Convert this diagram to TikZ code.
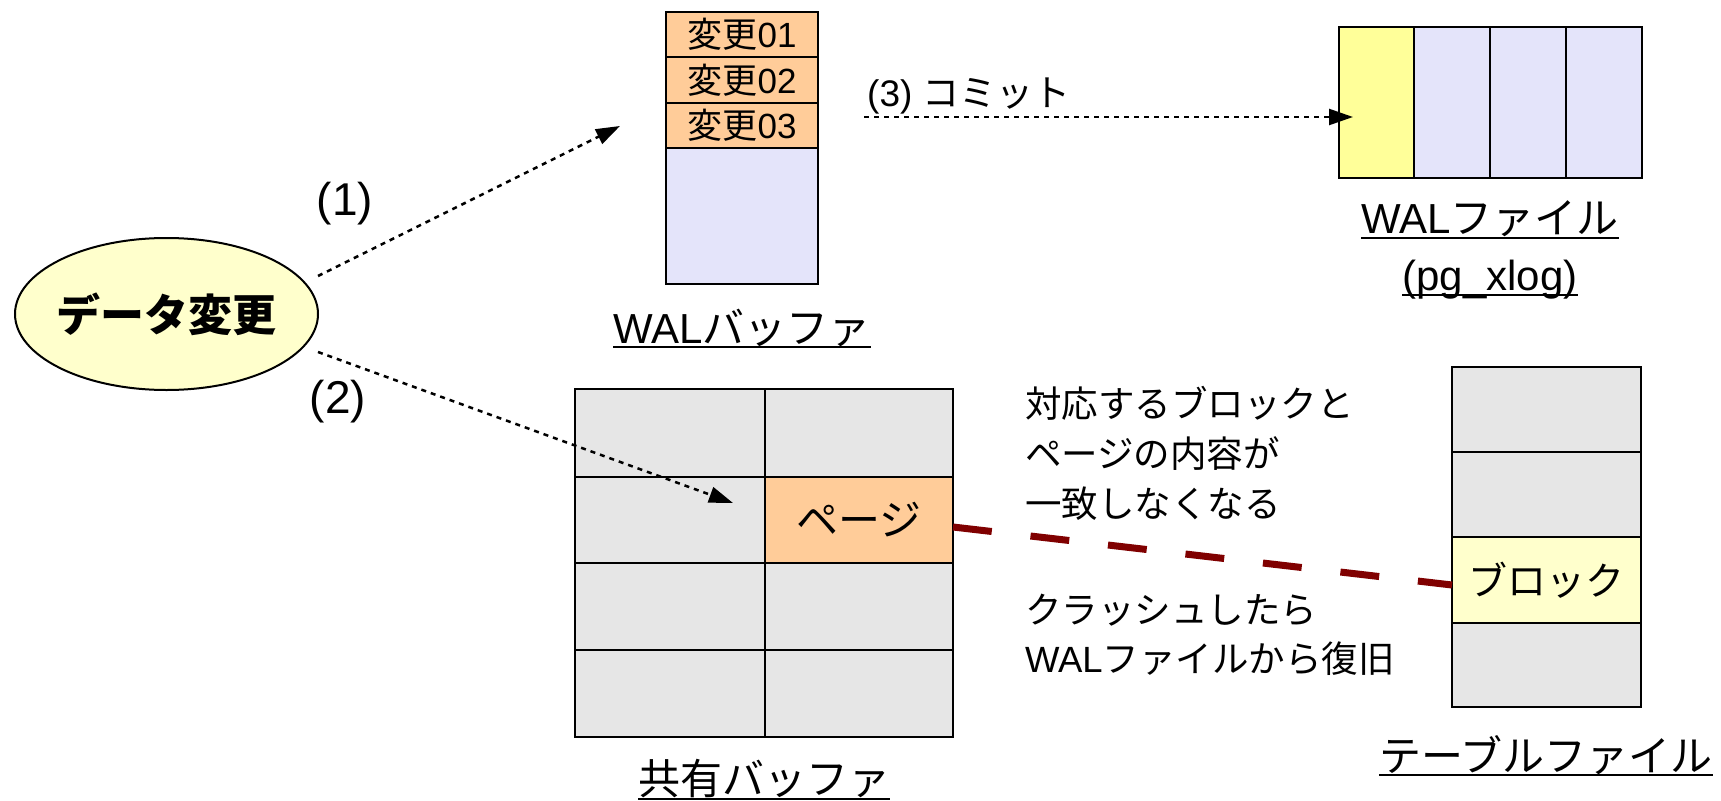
\documentclass[tikz,border=0pt]{standalone}
\usepackage{fontspec}
\setmainfont{Liberation Sans}
\newfontfamily\jp{Noto Sans CJK JP}
\usetikzlibrary{arrows.meta,shapes.geometric}
\definecolor{orng}{HTML}{FFCC99}
\definecolor{lav}{HTML}{E4E4FA}
\definecolor{ylw}{HTML}{FFFF99}
\definecolor{lyel}{HTML}{FFFFCC}
\definecolor{gry}{HTML}{E6E6E6}
\definecolor{dred}{HTML}{800000}
\newcommand{\fs}[1]{\fontsize{#1bp}{#1bp}\selectfont}
\tikzset{
  cell/.style={draw, line width=2bp, inner sep=0, outer sep=0, anchor=north west},
  lbl/.style={inner sep=0, outer sep=0, font=\fs{42}},
  txt/.style={inner sep=0, outer sep=0, anchor=base west, font=\fs{36.5}},
  ul/.style={line width=2.5bp},
  dotarrow/.style={line width=2.5bp, dash pattern=on 5bp off 5bp, -{Triangle[length=24bp,width=16bp]}},
  dashline/.style={line width=7bp, dred, dash pattern=on 39bp off 39bp},
}
\begin{document}
\begin{tikzpicture}[x=1bp, y=-1bp]
\useasboundingbox[fill=white] (0,0) rectangle (1721,801);

% data change ellipse
\node[ellipse, draw, line width=2bp, fill=lyel, minimum width=303bp, minimum height=152bp, inner sep=0, font=\fs{44}] (ell) at (166.5,314) {\makebox[0pt]{\jp\bfseries データ変更}};

% WAL buffer
\node[cell, fill=orng, minimum width=152bp, minimum height=45bp, font=\fs{35}] (wb1) at (666,12) {{\jp 変更}01};
\node[cell, fill=orng, minimum width=152bp, minimum height=46bp, font=\fs{35}] (wb2) at (666,57) {{\jp 変更}02};
\node[cell, fill=orng, minimum width=152bp, minimum height=45bp, font=\fs{35}] (wb3) at (666,103) {{\jp 変更}03};
\node[cell, fill=lav, minimum width=152bp, minimum height=136bp] (wb4) at (666,148) {};
\node[lbl, anchor=base] (wbl) at (742,343) {WAL{\jp バッファ}};
\draw[ul] ([yshift=-4bp]wbl.base west) -- ([yshift=-4bp]wbl.base east);

% WAL file
\node[cell, fill=ylw, minimum width=75bp, minimum height=151bp] (wf1) at (1339,27) {};
\node[cell, fill=lav, minimum width=76bp, minimum height=151bp] (wf2) at (1414,27) {};
\node[cell, fill=lav, minimum width=76bp, minimum height=151bp] (wf3) at (1490,27) {};
\node[cell, fill=lav, minimum width=76bp, minimum height=151bp] (wf4) at (1566,27) {};
\node[lbl, anchor=base] (wfl) at (1490,233) {WAL{\jp ファイル}};
\draw[ul] ([yshift=-5bp]wfl.base west) -- ([yshift=-5bp]wfl.base east);
\node[lbl, anchor=base] (wfl2) at (1490,290) {(pg\_xlog)};
\draw[ul] ([yshift=-5bp]wfl2.base west) -- ([yshift=-5bp]wfl2.base east);

% shared buffer
\node[cell, fill=gry, minimum width=190bp, minimum height=88bp] (sb11) at (575,389) {};
\node[cell, fill=gry, minimum width=188bp, minimum height=88bp] (sb12) at (765,389) {};
\node[cell, fill=gry, minimum width=190bp, minimum height=86bp] (sb21) at (575,477) {};
\node[cell, fill=orng, minimum width=188bp, minimum height=86bp, font=\fs{42}] (page) at (765,477) {\jp ページ};
\node[cell, fill=gry, minimum width=190bp, minimum height=87bp] (sb31) at (575,563) {};
\node[cell, fill=gry, minimum width=188bp, minimum height=87bp] (sb32) at (765,563) {};
\node[cell, fill=gry, minimum width=190bp, minimum height=87bp] (sb41) at (575,650) {};
\node[cell, fill=gry, minimum width=188bp, minimum height=87bp] (sb42) at (765,650) {};
\node[lbl, anchor=base] (sbl) at (764,794) {\jp 共有バッファ};
\draw[ul] ([yshift=-5bp]sbl.base west) -- ([yshift=-5bp]sbl.base east);

% table file
\node[cell, fill=gry, minimum width=189bp, minimum height=85bp] (tf1) at (1452,367) {};
\node[cell, fill=gry, minimum width=189bp, minimum height=85bp] (tf2) at (1452,452) {};
\node[cell, fill=lyel, minimum width=189bp, minimum height=86bp, font=\fs{39}] (blk) at (1452,537) {\jp ブロック};
\node[cell, fill=gry, minimum width=189bp, minimum height=84bp] (tf4) at (1452,623) {};
\node[lbl, anchor=base] (tfl) at (1546,771) {\jp テーブルファイル};
\draw[ul] ([yshift=-4bp]tfl.base west) -- ([yshift=-4bp]tfl.base east);

% descriptive texts
\node[txt] (t1) at (1025,417) {\jp 対応するブロックと};
\node[txt] (t2) at (1025,467) {\jp ページの内容が};
\node[txt] (t3) at (1025,517) {\jp 一致しなくなる};
\node[txt] (t4) at (1025,623) {\jp クラッシュしたら};
\node[txt] (t5) at (1025,672) {WAL{\jp ファイルから復旧}};

% arrows
\coordinate (a1s) at (318,276);
\coordinate (a1e) at (620,126);
\coordinate (a2s) at (318,352);
\coordinate (a2e) at (733,503);
\coordinate (a3s) at (864,117);
\draw[dotarrow] (a1s) -- (a1e);
\draw[dotarrow] (a2s) -- (a2e);
\draw[dotarrow] (a3s) -- ([xshift=14bp]wf1.west |- a3s);
\node[inner sep=0, font=\fs{46}] (l1) at (345,204) {(1)};
\node[inner sep=0, font=\fs{46}] (l2) at (338,402) {(2)};
\node[inner sep=0, anchor=base west, font=\fs{37}] (l3) at (867,106) {(3) {\jp コミット}};

% mismatch line
\draw[dashline] ([yshift=-7bp]page.east) -- ([yshift=-5bp]blk.west);
\end{tikzpicture}
\end{document}
